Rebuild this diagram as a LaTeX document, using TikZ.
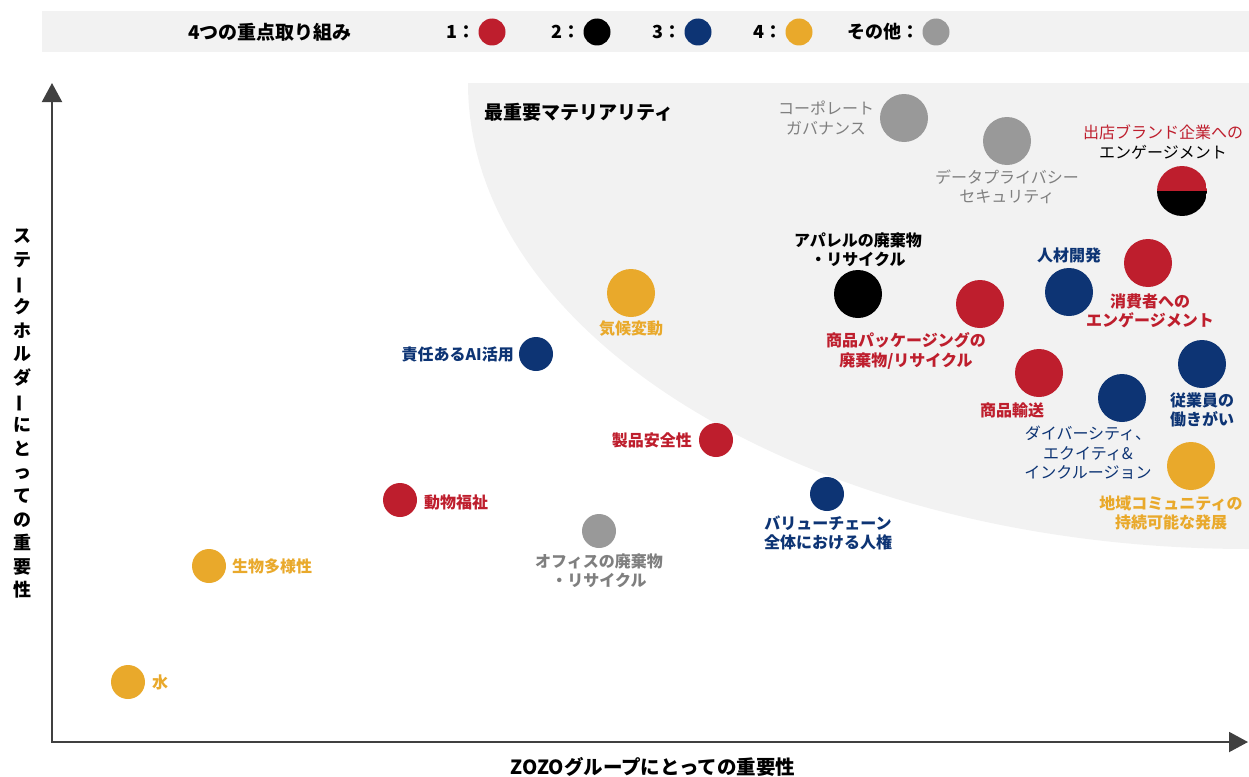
\documentclass[tikz,border=0pt]{standalone}
\usepackage{fontspec}
\setmainfont{Noto Sans CJK JP}
\usepackage{graphicx}
\usetikzlibrary{arrows.meta}
\definecolor{zred}{HTML}{BE1E2D}
\definecolor{zblue}{HTML}{0D3474}
\definecolor{zyel}{HTML}{E9A92B}
\definecolor{zgray}{HTML}{999999}
\definecolor{zgtxt}{HTML}{7F7F7F}
\definecolor{zbg}{HTML}{F2F2F2}
\definecolor{zaxis}{HTML}{404040}
\begin{document}
\begin{tikzpicture}[x=1pt,y=-1pt,
  bub/.style={circle,inner sep=0pt,minimum size=#1},
  big/.style={bub=48},
  small/.style={bub=34},
  leg/.style={bub=27},
  lbl/.style={font={\fontsize{16}{19.5}\selectfont\bfseries},align=center,inner sep=0pt},
  lblr/.style={font={\fontsize{16}{19.5}\selectfont},align=center,inner sep=0pt},
  legtxt/.style={font={\fontsize{18}{20}\selectfont\bfseries},inner sep=0pt},
  axislbl/.style={font={\fontsize{18}{23.6}\selectfont\bfseries},align=center,inner sep=0pt},
  axisline/.style={draw=zaxis,line width=2pt,{Triangle[width=20pt,length=19pt]}-{Triangle[width=20pt,length=19pt]}}
]
\useasboundingbox (0,0) rectangle (1249,776);
% background areas
\fill[zbg] (42,11) rectangle (1249,52);
\fill[zbg] (468,83) -- (1249,83) -- (1249,549) arc[start angle=90,end angle=180,x radius=781,y radius=466] -- cycle;

% legend
\node[legtxt,font={\fontsize{19}{20}\selectfont\bfseries}] (legtitle) at (270,32) {4つの重点取り組み};
\node[leg,fill=zred] (l1) at (492,32) {};
\node[legtxt,anchor=east] (l1t) at (476,32) {1：};
\node[leg,fill=black] (l2) at (597,32) {};
\node[legtxt,anchor=east] (l2t) at (581,32) {2：};
\node[leg,fill=zblue] (l3) at (698,32) {};
\node[legtxt,anchor=east] (l3t) at (682,32) {3：};
\node[leg,fill=zyel] (l4) at (799,32) {};
\node[legtxt,anchor=east] (l4t) at (783,32) {4：};
\node[leg,fill=zgray] (l5) at (936,32) {};
\node[legtxt,anchor=east] (l5t) at (920,32) {その他：};

% axes
\coordinate (Yt) at (52,83);
\coordinate (O) at (52,742);
\coordinate (Xt) at (1248,742);
\draw[axisline] (Yt) -- (O) -- (Xt);
\node[axislbl] (ylab) at (22,414) {ス\\テ\\\rotatebox[origin=c]{90}{ー}\\ク\\ホ\\ル\\ダ\\\rotatebox[origin=c]{90}{ー}\\に\\と\\っ\\て\\の\\重\\要\\性};
\node[axislbl,font={\fontsize{19.5}{22}\selectfont\bfseries}] (xlab) at (653,767) {ZOZOグループにとっての重要性};

\node[font={\fontsize{19}{22}\selectfont\bfseries},anchor=west,inner sep=0pt] (top) at (484,112) {最重要マテリアリティ};

% bubbles
\node[big,fill=zgray] (cg) at (904,118) {};
\node[lblr,text=zgtxt] (cgt) at (826,118) {コーポレート\\ガバナンス};

\node[big,fill=zgray] (dp) at (1007,141) {};
\node[lblr,text=zgtxt] (dpt) at (1007,187) {データプライバシー\\セキュリティ};

\node[bub=50,path picture={
  \fill[zred] (path picture bounding box.north west) rectangle (path picture bounding box.east);
  \fill[black] (path picture bounding box.west) rectangle (path picture bounding box.south east);}] (br) at (1182,191) {};
\node[lblr] (brt) at (1163,142) {\textcolor{zred}{出店ブランド企業への}\\エンゲージメント};

\node[big,fill=zblue] (hr) at (1069,292) {};
\node[lbl,text=zblue] (hrt) at (1069,255) {人材開発};

\node[big,fill=zred] (ce) at (1148,263) {};
\node[lbl,text=zred] (cet) at (1150,311) {消費者への\\エンゲージメント};

\node[big,fill=black] (ap) at (858,294) {};
\node[lbl,text=black] (apt) at (858,250) {アパレルの廃棄物\\・リサイクル};

\node[big,fill=zred] (pk) at (980,304) {};
\node[lbl,text=zred] (pkt) at (906,351) {商品パッケージングの\\廃棄物/リサイクル};

\node[big,fill=zblue] (em) at (1202,364) {};
\node[lbl,text=zblue] (emt) at (1202,410) {従業員の\\働きがい};

\node[big,fill=zred] (tr) at (1039,373) {};
\node[lbl,text=zred] (trt) at (1012,410) {商品輸送};

\node[big,fill=zblue] (de) at (1122,398) {};
\node[lblr,text=zblue] (det) at (1088,453) {ダイバーシティ、\\エクイティ\&\\インクルージョン};

\node[big,fill=zyel] (lc) at (1191,466) {};
\node[lbl,text=zyel] (lct) at (1171,513) {地域コミュニティの\\持続可能な発展};

\node[big,fill=zyel] (cc) at (631,293) {};
\node[lbl,text=zyel] (cct) at (631,329) {気候変動};

\node[small,fill=zblue] (ai) at (536,354) {};
\node[lbl,text=zblue,anchor=east] (ait) at (514,354) {責任あるAI活用};

\node[small,fill=zred] (ps) at (716,440) {};
\node[lbl,text=zred,anchor=east] (pst) at (692,440) {製品安全性};

\node[small,fill=zred] (aw) at (400,500) {};
\node[lbl,text=zred,anchor=west] (awt) at (424,502) {動物福祉};

\node[small,fill=zblue] (vc) at (827,494) {};
\node[lbl,text=zblue] (vct) at (828,533) {バリューチェーン\\全体における人権};

\node[small,fill=zgray] (of) at (599,531) {};
\node[lbl,text=zgtxt] (oft) at (599,571) {オフィスの廃棄物\\・リサイクル};

\node[small,fill=zyel] (bd) at (209,566) {};
\node[lbl,text=zyel,anchor=west] (bdt) at (232,566) {生物多様性};

\node[small,fill=zyel] (wa) at (128,682) {};
\node[lbl,text=zyel,anchor=west] (wat) at (152,682) {水};
\end{tikzpicture}
\end{document}
